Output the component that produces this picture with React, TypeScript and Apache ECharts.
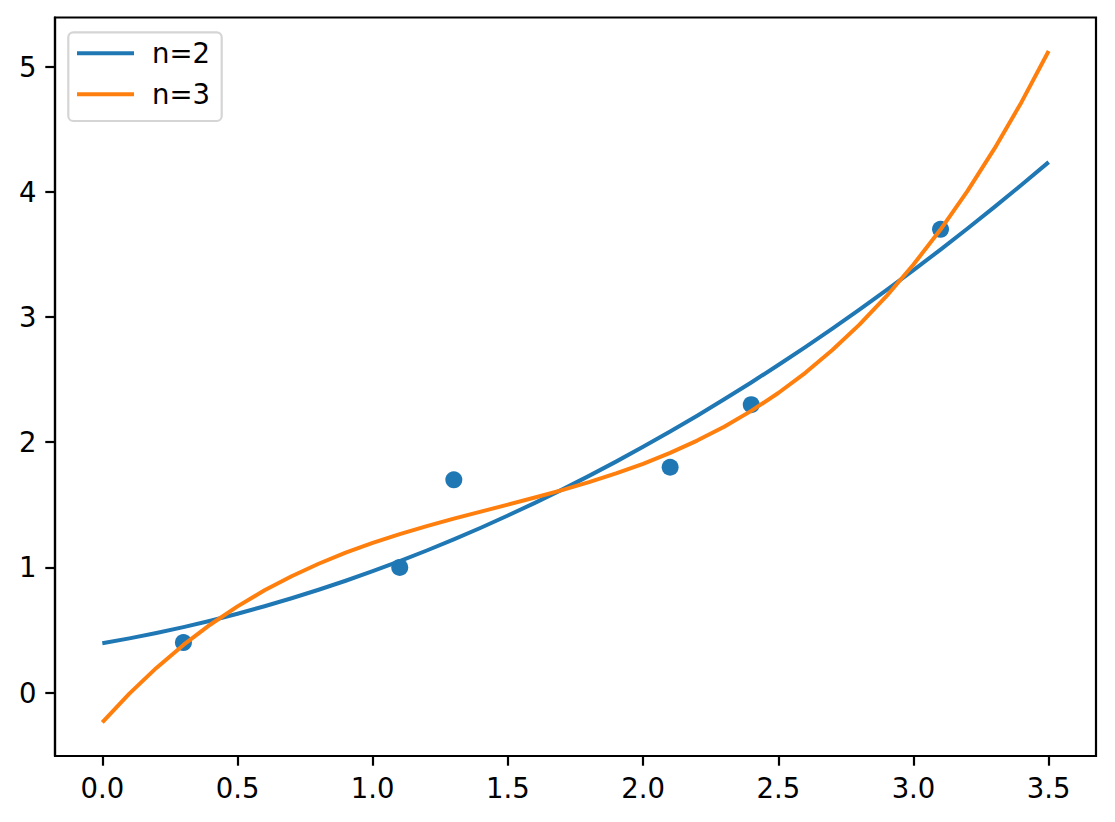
import React, { useEffect, useRef } from "react";
import * as echarts from "echarts";

// Scatter observations
const pointX = [0.3, 1.1, 1.3, 2.1, 2.4, 3.1];
const pointY = [0.4, 1.0, 1.7, 1.8, 2.3, 3.7];

// Fitted curves, sampled along x (step 0.1)
const fitX = [
  0, 0.1, 0.2, 0.3, 0.4, 0.5, 0.6, 0.7, 0.8, 0.9, 1.0, 1.1, 1.2, 1.3, 1.4, 1.5, 1.6, 1.7,
  1.8, 1.9, 2.0, 2.1, 2.2, 2.3, 2.4, 2.5, 2.6, 2.7, 2.8, 2.9, 3.0, 3.1, 3.2, 3.3, 3.4, 3.5,
];
const fitN2 = [
  0.3948, 0.4335, 0.4764, 0.5235, 0.5747, 0.6302, 0.6898, 0.7536, 0.8215, 0.8937, 0.97,
  1.0505, 1.1352, 1.2241, 1.3171, 1.4144, 1.5158, 1.6214, 1.7311, 1.8451, 1.9632, 2.0855,
  2.212, 2.3427, 2.4775, 2.6166, 2.7598, 2.9072, 3.0587, 3.2145, 3.3744, 3.5385, 3.7068,
  3.8793, 4.0559, 4.2367,
];
const fitN3 = [
  -0.2378, -0.0082, 0.1975, 0.3812, 0.5445, 0.6892, 0.8171, 0.9299, 1.0295, 1.1175, 1.1957,
  1.2659, 1.3299, 1.3894, 1.4461, 1.5019, 1.5584, 1.6176, 1.6809, 1.7505, 1.8277, 1.9147,
  2.013, 2.1237, 2.2502, 2.3931, 2.5546, 2.736, 2.9393, 3.1663, 3.4192, 3.6984, 4.0069,
  4.3462, 4.718, 5.124,
];

const seriesNames = ["n=2", "n=3"];
const xTicks = [0, 0.5, 1.0, 1.5, 2.0, 2.5, 3.0, 3.5];
const yTicks = [0, 1, 2, 3, 4, 5];

const FONT = "DejaVu Sans";

export default function App() {
  const ref = useRef<HTMLDivElement>(null);
  useEffect(() => {
    if (!ref.current) return;
    const chart = echarts.init(ref.current, null, { renderer: "svg" });
    const axisLine = { show: true, onZero: false, lineStyle: { color: "#000", width: 2.2 } };
    const axisTick = (vals: number[]) => ({
      show: true,
      inside: false,
      length: 9.7,
      lineStyle: { color: "#000", width: 2.2 },
      customValues: vals,
    });
    chart.setOption({
      animation: false,
      backgroundColor: "#fff",
      grid: {
        left: 55,
        top: 17.5,
        right: 19,
        bottom: 66,
        show: true,
        borderColor: "#000",
        borderWidth: 2.2,
        backgroundColor: "transparent",
      },
      xAxis: {
        type: "value",
        min: -0.175,
        max: 3.675,
        splitLine: { show: false },
        axisLine,
        axisTick: axisTick(xTicks),
        axisLabel: {
          customValues: xTicks,
          formatter: (v: number) => v.toFixed(1),
          fontFamily: FONT,
          fontSize: 27.5,
          lineHeight: 28,
          color: "#000",
          margin: 18,
        },
      },
      yAxis: {
        type: "value",
        min: -0.506,
        max: 5.392,
        splitLine: { show: false },
        axisLine,
        axisTick: axisTick(yTicks),
        axisLabel: {
          customValues: yTicks,
          formatter: (v: number) => String(Math.round(v)),
          fontFamily: FONT,
          fontSize: 27.5,
          lineHeight: 28,
          color: "#000",
          margin: 18.5,
        },
      },
      legend: {
        show: true,
        orient: "vertical",
        left: 77,
        top: 39.3,
        padding: 0,
        itemGap: 13,
        itemWidth: 57,
        itemHeight: 4,
        icon: "rect",
        data: seriesNames,
        textStyle: {
          fontFamily: FONT,
          fontSize: 27.5,
          lineHeight: 28,
          color: "#000",
          padding: [0, 0, 0, 13],
        },
        z: 6,
      },
      graphic: [
        {
          type: "rect",
          z: 5,
          shape: { x: 68.3, y: 32.3, width: 153.4, height: 88.7, r: 5 },
          style: { fill: "rgba(255,255,255,0.8)", stroke: "#d5d5d5", lineWidth: 2.2 },
        },
      ],
      series: [
        {
          type: "scatter",
          data: pointX.map((x, i) => [x, pointY[i]]),
          symbolSize: 17,
          itemStyle: { color: "#1f77b4", opacity: 1 },
          z: 1,
        },
        {
          name: seriesNames[0],
          type: "line",
          data: fitX.map((x, i) => [x, fitN2[i]]),
          smooth: false,
          symbol: "none",
          lineStyle: { color: "#1f77b4", width: 4, join: "round" },
          itemStyle: { color: "#1f77b4" },
          z: 2,
        },
        {
          name: seriesNames[1],
          type: "line",
          data: fitX.map((x, i) => [x, fitN3[i]]),
          smooth: false,
          symbol: "none",
          lineStyle: { color: "#ff7f0e", width: 4, join: "round" },
          itemStyle: { color: "#ff7f0e" },
          z: 3,
        },
      ],
    });
    return () => chart.dispose();
  }, []);
  return (
    <div
      ref={ref}
      style={{ position: "fixed", left: 0, top: 0, width: 1115, height: 822, background: "#fff" }}
    />
  );
}
